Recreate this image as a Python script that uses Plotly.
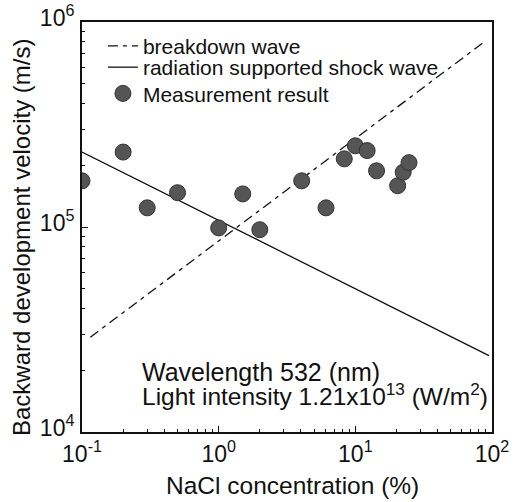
import plotly.graph_objects as go

# Measurement data (NaCl concentration %, velocity m/s)
conc = [0.1, 0.2, 0.30, 0.50, 1.0, 1.5, 2.0, 4.05, 6.1, 8.3, 10.0, 12.2, 14.3, 20.4, 22.4, 24.7]
velocity = [1.68e5, 2.32e5, 1.24e5, 1.47e5, 0.99e5, 1.45e5, 0.97e5, 1.68e5, 1.24e5,
            2.15e5, 2.49e5, 2.36e5, 1.88e5, 1.59e5, 1.85e5, 2.06e5]

# Theoretical lines (end points)
breakdown_x = [0.115, 90]
breakdown_y = [2.9e4, 8.1e5]
radiation_x = [0.1, 95]
radiation_y = [2.32e5, 2.36e4]

# Tick labels
x_tickvals = [0.1, 1, 10, 100]
x_ticktext = ["10<sup>-1</sup>", "10<sup>0</sup>", "10<sup>1</sup>", "10<sup>2</sup>"]
y_tickvals = [1e4, 1e5, 1e6]
y_ticktext = ["10<sup>4</sup>", "10<sup>5</sup>", "10<sup>6</sup>"]
x_minor = [m * d for d in [0.1, 1, 10] for m in range(2, 10)]
y_minor = [m * d for d in [1e4, 1e5] for m in range(2, 10)]

FONT = "Liberation Sans, Arial, sans-serif"
INK = "#111111"

fig = go.Figure()
fig.add_trace(go.Scatter(x=breakdown_x, y=breakdown_y, mode="lines", name="breakdown wave",
                         legend="legend",
                         line=dict(color=INK, width=1.3, dash="10px,5px,4px,5px")))
fig.add_trace(go.Scatter(x=radiation_x, y=radiation_y, mode="lines",
                         name="radiation supported shock wave", legend="legend2",
                         line=dict(color=INK, width=1.3)))
fig.add_trace(go.Scatter(x=conc, y=velocity, mode="markers", name="Measurement result",
                         legend="legend3",
                         marker=dict(size=16, color="#555555",
                                     line=dict(color="#333333", width=1))))

axis_common = dict(
    showline=True, linecolor=INK, linewidth=2, mirror=True,
    ticks="inside", ticklen=6, tickcolor=INK, tickwidth=1.2,
    showgrid=False, zeroline=False, tickmode="array",
    tickfont=dict(family=FONT, size=23, color=INK),
)

fig.update_xaxes(type="log", range=[-1, 2], tickvals=x_tickvals, ticktext=x_ticktext,
                 minor=dict(ticks="inside", ticklen=3, tickcolor=INK, tickmode="array",
                            tickvals=x_minor, showgrid=False),
                 **axis_common)
fig.update_yaxes(type="log", range=[4, 6], tickvals=y_tickvals, ticktext=y_ticktext,
                 ticklabelshift=-4, ticklabelstandoff=1,
                 minor=dict(ticks="inside", ticklen=3, tickcolor=INK, tickmode="array",
                            tickvals=y_minor, showgrid=False),
                 **axis_common)

# Axis titles
fig.add_annotation(x=0.5146, y=-0.1317, xref="paper", yref="paper", xanchor="center",
                   yanchor="middle", text="NaCl concentration (%)", showarrow=False,
                   font=dict(family=FONT, size=24.5, color=INK))
fig.add_annotation(x=-0.1488, y=0.4756, xref="paper", yref="paper", xanchor="center",
                   yanchor="middle", textangle=-90,
                   text="Backward development velocity (m/s)", showarrow=False,
                   font=dict(family=FONT, size=24, color=INK))

# Condition notes
fig.add_annotation(x=0.1415, y=0.146, xref="paper", yref="paper", xanchor="left", yanchor="middle",
                   text="Wavelength 532 (nm)", showarrow=False,
                   font=dict(family=FONT, size=25, color=INK))
fig.add_annotation(x=0.1415, y=0.092, xref="paper", yref="paper", xanchor="left", yanchor="middle",
                   text="Light intensity 1.21x10<sup>13</sup> (W/m<sup>2</sup>)", showarrow=False,
                   font=dict(family=FONT, size=24.5, color=INK))

leg = dict(x=0.051, xanchor="left", yanchor="top", bgcolor="rgba(0,0,0,0)", borderwidth=0,
           font=dict(family=FONT, size=21, color=INK), itemwidth=30)

fig.update_layout(
    width=517, height=502,
    margin=dict(l=82, r=25, t=22, b=70, autoexpand=False),
    paper_bgcolor="white", plot_bgcolor="white",
    font=dict(family=FONT, color=INK),
    showlegend=True,
    legend=dict(leg, y=0.991),
    legend2=dict(leg, y=0.939),
    legend3=dict(leg, y=0.875),
)

fig.write_html("out.html")
